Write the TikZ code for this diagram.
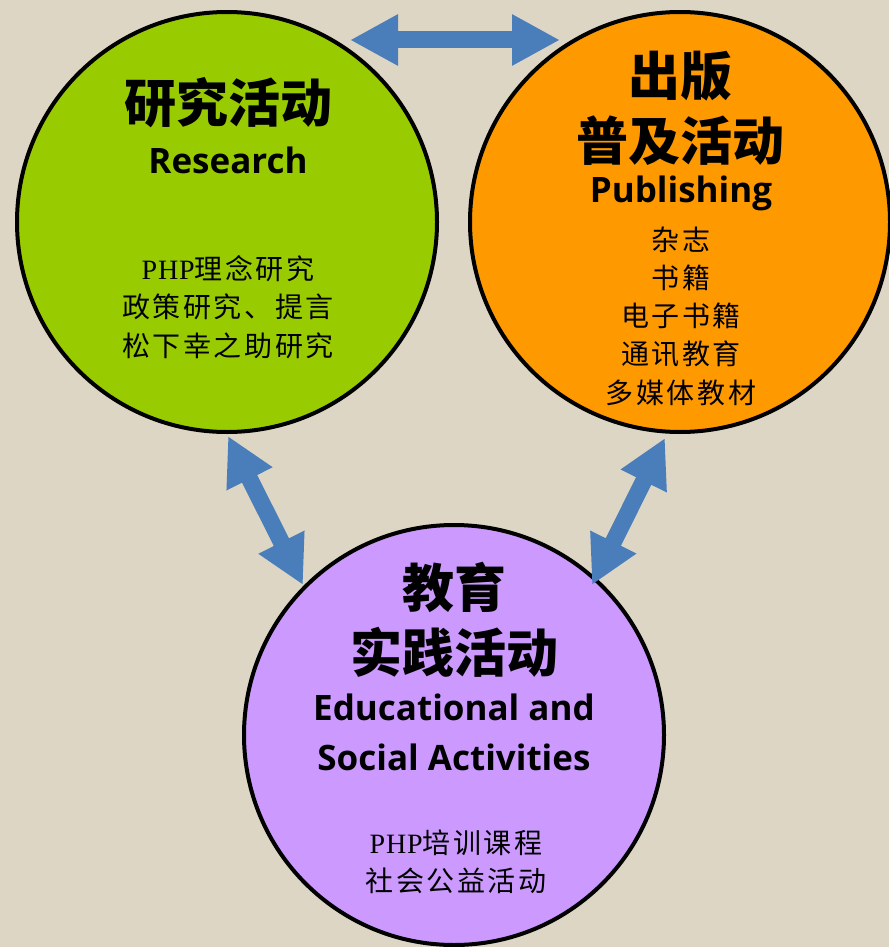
\documentclass[tikz,border=0pt]{standalone}
\usepackage{fontspec}
\usepackage{tikz}
\usetikzlibrary{arrows.meta}
\setmainfont{Noto Sans CJK SC}
\newfontfamily\itemfont{Noto Sans CJK SC}[LetterSpace=9]
\newfontfamily\latinbold{Open Sans}
\newfontfamily\phpfont{Liberation Serif}[LetterSpace=3]
\definecolor{paper}{RGB}{221,214,197}
\definecolor{resgreen}{RGB}{153,204,0}
\definecolor{puborange}{RGB}{255,153,0}
\definecolor{edupurple}{RGB}{204,153,255}
\definecolor{arrowblue}{RGB}{74,126,187}

\begin{document}
\begin{tikzpicture}[x=1pt, y=-1pt,
  field/.style={circle, draw=black, line width=4pt, minimum size=420pt, inner sep=0pt},
  title/.style={align=center, font=\bfseries\fontsize{52}{65}\selectfont},
  entitle/.style={align=center, font=\latinbold\bfseries\fontsize{35}{50}\selectfont},
  items/.style={align=center, font=\itemfont\fontsize{28}{38.3}\selectfont},
  link/.style={draw=arrowblue, line width=17pt,
    {Triangle[width=48pt,length=48pt]}-{Triangle[width=48pt,length=48pt]}}]
\fill[paper] (0,0) rectangle (889,947);
\useasboundingbox (0,0) rectangle (889,947);
% the three fields
\node[field, fill=resgreen] (res) at (227,222) {};
\node[field, fill=puborange] (pub) at (680,222) {};
\node[field, fill=edupurple] (edu) at (454,735) {};
% texts
\node[title] (resT) at (228,103) {研究活动};
\node[entitle] (resE) at (228,160) {Research};
\node[items] (resB) at (228,307) {{\phpfont PHP}理念研究\\政策研究、提言\\松下幸之助研究};
\node[title] (pubT) at (680,108) {出版\\普及活动};
\node[entitle] (pubE) at (681,193) {Publishing};
\node[items] (pubB) at (681,316) {杂志\\书籍\\电子书籍\\通讯教育\\多媒体教材};
\node[title] (eduT) at (454,620) {教育\\实践活动};
\node[entitle] (eduE) at (454,732) {Educational and\\Social Activities};
\node[items] (eduB) at (456,862) {{\phpfont PHP}培训课程\\社会公益活动};
% arrows between the fields
\coordinate (a1) at (350,40);
\coordinate (a2) at (560,40);
\coordinate (b1) at (228,436);
\coordinate (b2) at (303,585);
\coordinate (c1) at (665,438);
\coordinate (c2) at (592,585);
\draw[link] (a1) -- (a2);
\draw[link] (b1) -- (b2);
\draw[link] (c1) -- (c2);
\end{tikzpicture}
\end{document}
